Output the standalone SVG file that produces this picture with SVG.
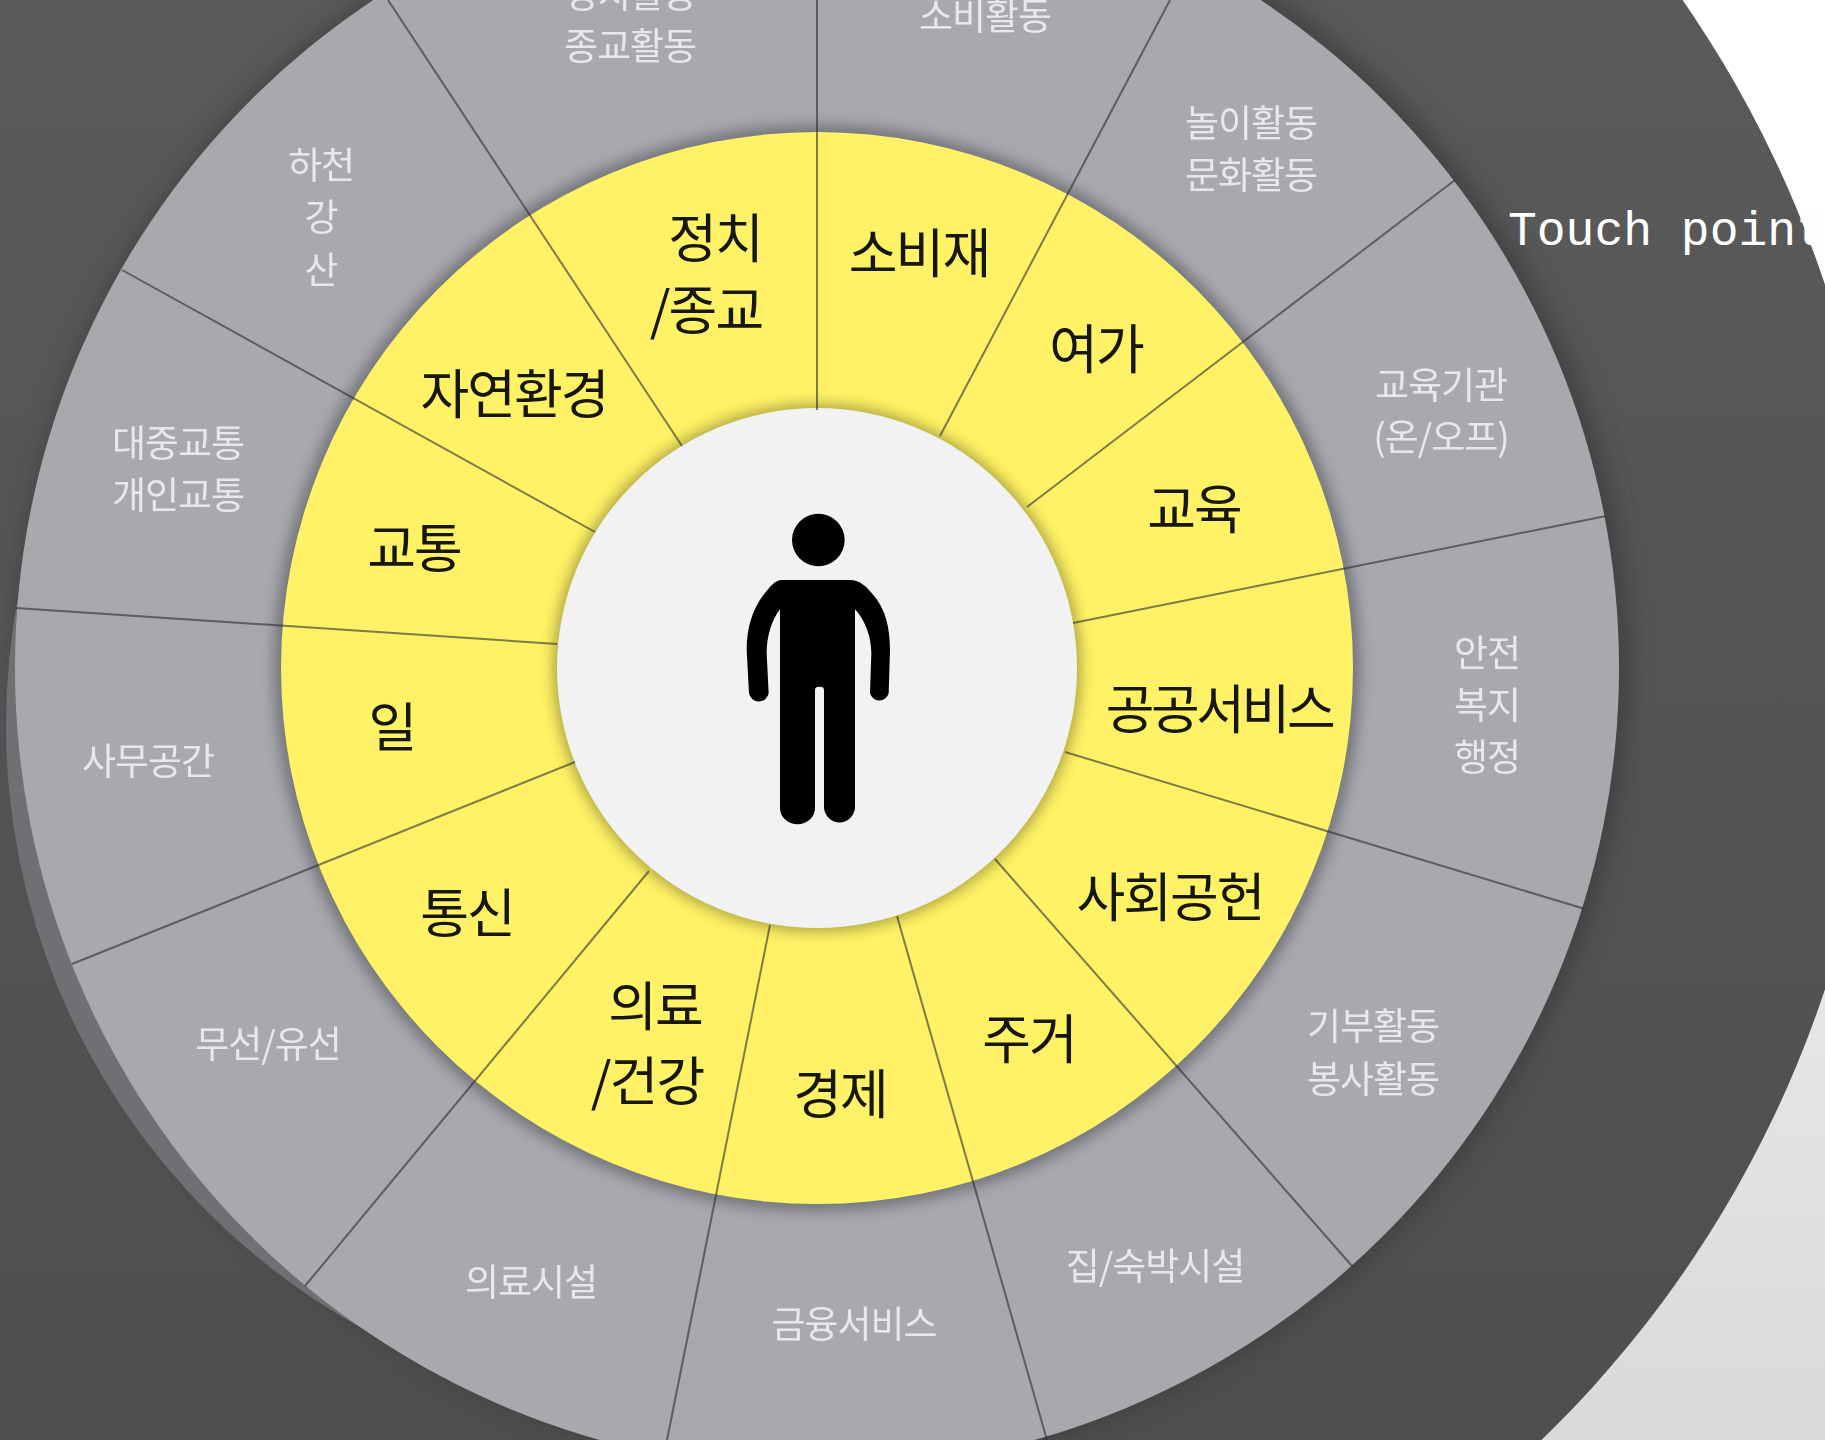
<svg xmlns="http://www.w3.org/2000/svg" width="1825" height="1440" viewBox="0 0 1825 1440">
<style>
.y{font-family:"Noto Sans CJK KR","Liberation Sans",sans-serif;font-size:53px;font-weight:400;fill:#141408;text-anchor:middle;dominant-baseline:central;letter-spacing:-2px}
.g{font-family:"Noto Sans CJK KR","Liberation Sans",sans-serif;font-size:37px;font-weight:400;fill:#e8e8ea;text-anchor:middle;dominant-baseline:central;letter-spacing:-1px}
.s{stroke:#2a2a32;stroke-opacity:.6;stroke-width:2;fill:none}
</style>
<defs>
<linearGradient id="bg" x1="0" y1="0" x2="0" y2="1"><stop offset=".14" stop-color="#fff"/><stop offset="1" stop-color="#d9d9d9"/></linearGradient>
<linearGradient id="dk" gradientUnits="userSpaceOnUse" x1="0" y1="0" x2="0" y2="1440"><stop offset="0" stop-color="#5a5a5a"/><stop offset="1" stop-color="#4e4e4e"/></linearGradient>
<filter id="b14" x="-10%" y="-10%" width="120%" height="120%"><feGaussianBlur stdDeviation="12"/></filter>
<filter id="b7" x="-10%" y="-10%" width="120%" height="120%"><feGaussianBlur stdDeviation="7"/></filter>
<filter id="soft" x="-5%" y="-20%" width="110%" height="140%"><feGaussianBlur stdDeviation=".6"/></filter>
</defs>
<rect id="background" width="1825" height="1440" fill="url(#bg)"/>
<circle id="backdrop" cx="765" cy="637" r="1117" fill="url(#dk)"/>
<g id="wheel">
<circle cx="823" cy="664" r="806" fill="#3a3a3e" opacity=".75" filter="url(#b14)"/>
<circle id="rim-shadow" cx="695" cy="725" r="689" fill="#707074"/>
<circle id="outer-ring" cx="817" cy="668" r="802" fill="#a8a9ad"/>
<circle cx="817" cy="668" r="543" fill="#6a6a72" opacity=".85" filter="url(#b7)"/>
<circle id="middle-ring" cx="817" cy="668" r="536" fill="#fff266"/>
<circle cx="817" cy="668" r="264" fill="#8a8430" opacity=".7" filter="url(#b7)"/>
<circle id="center-disc" cx="817" cy="668" r="260" fill="#f2f2f3"/>
</g>
<g id="connectors" class="s">
<path d="M817 410V0"/><path d="M940 436L1170 0"/><path d="M1027 507L1455 180"/><path d="M1073 623L1606 516"/><path d="M1065 752L1585 909"/><path d="M995 859L1352 1266"/><path d="M897 916L1047 1440"/><path d="M770 925L667 1440"/><path d="M649 871L305 1286"/><path d="M575 762L72 964"/><path d="M557 644L16 608"/><path d="M595 532L122 270"/><path d="M682 446L388 0"/>
</g>
<g id="person" transform="translate(700 480) scale(.33333)">
<circle cx="355" cy="180" r="79"/>
<path d="M245 300L450 300C480 300 500 320 520 345C555 385 570 440 570 510L566 640A29 29 0 0 1 510 640L514 520C514 470 495 420 465 388L465 985A47 50 0 0 1 372 985L372 630Q372 620 358 620Q345 620 345 630L345 985A52 47 0 0 1 240 985L240 388C215 420 200 470 200 520L206 640A30 30 0 0 1 147 640L140 510C140 440 160 385 190 345C210 320 225 300 245 300Z"/>
</g>
<g id="categories" filter="url(#soft)">
<g id="c-politics"><text class="y" x="715" y="235">정치</text><text class="y" x="706" y="307">/종교</text></g>
<g id="c-consumer"><text class="y" x="919" y="250">소비재</text></g>
<g id="c-leisure"><text class="y" x="1096" y="346">여가</text></g>
<g id="c-education"><text class="y" x="1194" y="506">교육</text></g>
<g id="c-public"><text class="y" x="1219" y="706" style="letter-spacing:-3.5px">공공서비스</text></g>
<g id="c-social"><text class="y" x="1170" y="894">사회공헌</text></g>
<g id="c-housing"><text class="y" x="1029" y="1036">주거</text></g>
<g id="c-economy"><text class="y" x="840" y="1091">경제</text></g>
<g id="c-medical"><text class="y" x="655" y="1003">의료</text><text class="y" x="647" y="1078">/건강</text></g>
<g id="c-telecom"><text class="y" x="467" y="910">통신</text></g>
<g id="c-work"><text class="y" x="392" y="724">일</text></g>
<g id="c-traffic"><text class="y" x="414" y="545">교통</text></g>
<g id="c-nature"><text class="y" x="514" y="391">자연환경</text></g>
</g>
<g id="touchpoints" filter="url(#soft)">
<g id="t-politics"><text class="g" x="630" y="-8">정치활동</text><text class="g" x="630" y="44">종교활동</text></g>
<g id="t-consumer"><text class="g" x="985" y="14">소비활동</text></g>
<g id="t-leisure"><text class="g" x="1251" y="121">놀이활동</text><text class="g" x="1251" y="173">문화활동</text></g>
<g id="t-education"><text class="g" x="1441" y="383">교육기관</text><text class="g" x="1441" y="435">(온/오프)</text></g>
<g id="t-public"><text class="g" x="1487" y="651">안전</text><text class="g" x="1487" y="703">복지</text><text class="g" x="1487" y="755">행정</text></g>
<g id="t-social"><text class="g" x="1373" y="1024">기부활동</text><text class="g" x="1373" y="1077">봉사활동</text></g>
<g id="t-housing"><text class="g" x="1155" y="1264">집/숙박시설</text></g>
<g id="t-economy"><text class="g" x="854" y="1322">금융서비스</text></g>
<g id="t-medical"><text class="g" x="531" y="1280">의료시설</text></g>
<g id="t-telecom"><text class="g" x="268" y="1042">무선/유선</text></g>
<g id="t-work"><text class="g" x="148" y="759">사무공간</text></g>
<g id="t-traffic"><text class="g" x="178" y="441">대중교통</text><text class="g" x="178" y="493">개인교통</text></g>
<g id="t-nature"><text class="g" x="321" y="163">하천</text><text class="g" x="321" y="215">강</text><text class="g" x="321" y="268">산</text></g>
</g>
<text id="touch-point-label" x="1508" y="245" font-family="'Liberation Mono','Courier New',monospace" font-size="48" fill="#fff">Touch point</text>
</svg>
